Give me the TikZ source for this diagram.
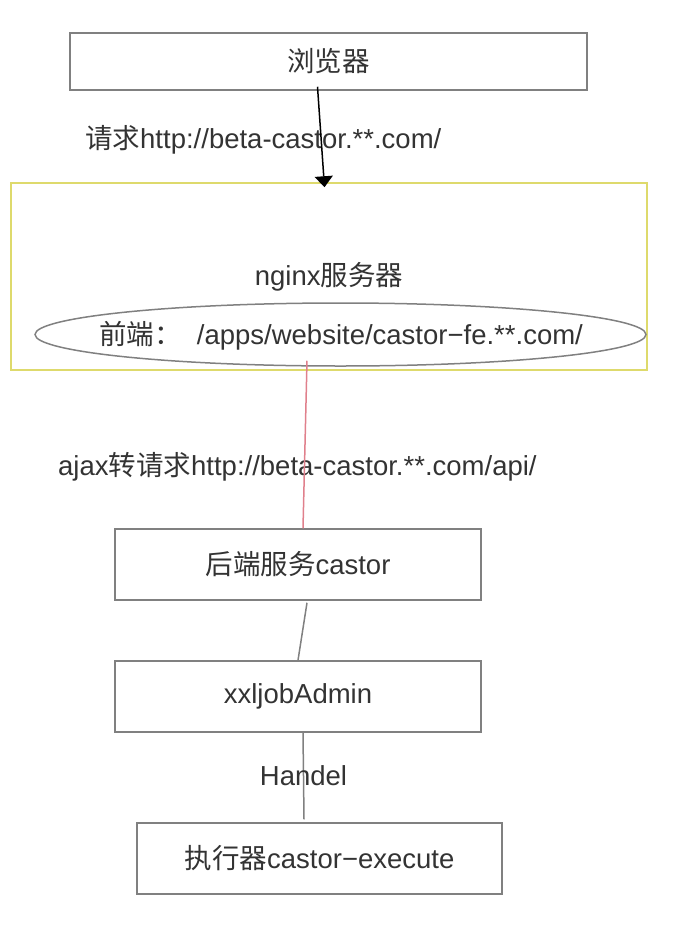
\documentclass[tikz,border=0pt]{standalone}
\usepackage{fontspec}
\setmainfont{Liberation Sans}
\newfontfamily\cjk{Noto Sans CJK SC}
\usetikzlibrary{
    arrows.meta,
    positioning,
    shapes.geometric
}

\definecolor{boxgrey}{HTML}{808080}
\definecolor{nginxyellow}{HTML}{DEDA6C}
\definecolor{ajaxred}{HTML}{E0808C}
\definecolor{textgrey}{HTML}{333333}

\begin{document}
\begin{tikzpicture}[
    x=1pt, y=-1pt,
    every node/.style={
      text=textgrey,
      font=\fontsize{27.5}{32}\selectfont,
      inner sep=0pt
    },
    stepbox/.style={
      draw=boxgrey,
      line width=1.5pt,
      minimum width=366pt,
      minimum height=71pt
    },
    link/.style={
      draw=boxgrey,
      line width=1.5pt
    }
  ]

  \useasboundingbox (0,0) rectangle (694,932);

  % browser {{{
  \node[
    stepbox,
    minimum width=517pt,
    minimum height=57pt
  ] (browser) at (328.5,61.5)
  {{\cjk 浏览器}};
  % }}}

  % nginx {{{
  \node[
    draw=nginxyellow,
    line width=1.5pt,
    minimum width=636pt,
    minimum height=187pt
  ] (nginx) at (329,276.5)
  {nginx{\cjk 服务器}};

  \node[
    ellipse,
    draw=boxgrey,
    line width=1.5pt,
    minimum width=611pt,
    minimum height=63pt
  ] (fe) at (340.5,334.5) {};
  \node (fetext) at (341,335.5)
  {{\cjk 前端：}\ \ /apps/website/castor−fe.**.com/};
  % }}}

  % backend {{{
  \node[stepbox] (back) at (298,564.5) {{\cjk 后端服务}castor};
  \node[stepbox] (admin) at (298,696.5) {xxljobAdmin};
  \node[stepbox, minimum width=365pt] (exec) at (319.5,858.5)
  {{\cjk 执行器}castor−execute};
  % }}}

  % labels {{{
  \node[anchor=west] (req) at (85,140)
  {{\cjk 请求}http://beta-castor.**.com/};
  \node[anchor=west] (ajax) at (58,467)
  {ajax{\cjk 转请求}http://beta-castor.**.com/api/};
  % }}}

  % connectors {{{
  \draw[
    line width=1.5pt,
    -{Triangle[width=18pt,length=11pt]}
  ] ([xshift=-11pt,yshift=4pt]browser.south)
    -- ([xshift=-4.5pt,yshift=-5pt]nginx.north);

  \draw[draw=ajaxred, line width=1.5pt]
    ([xshift=-33.5pt,yshift=6pt]fe.south) -- ([xshift=5pt]back.north);

  \draw[link] ([xshift=9pt,yshift=-2pt]back.south) -- (admin.north);

  \draw[link] ([xshift=5pt]admin.south)
    -- node (handel) {Handel} ([xshift=-15.5pt,yshift=3pt]exec.north);
  % }}}

\end{tikzpicture}
\end{document}
